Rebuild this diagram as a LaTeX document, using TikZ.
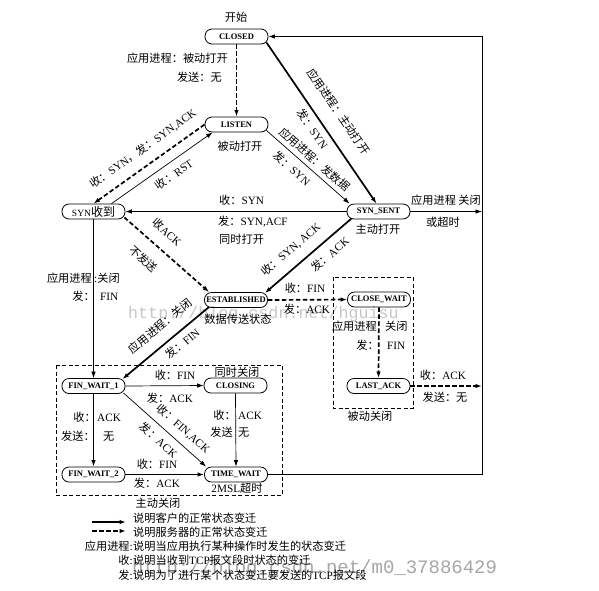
\documentclass[tikz,border=0pt]{standalone}
\usepackage{fontspec}
\setmainfont{Liberation Serif}
\newfontfamily\cjk{Noto Sans CJK SC}
\newfontfamily\wmfont{Liberation Mono}
\usetikzlibrary{arrows.meta}
\newcommand\zh[1]{{\cjk#1}}
\tikzset{
  nd/.style={draw, line width=0.8pt, rounded corners=7pt, minimum width=63pt, minimum height=15pt, inner sep=0pt, font=\bfseries\fontsize{8.5}{9}\selectfont},
  lab/.style={inner sep=0pt, text height=8.5pt, text depth=2.5pt, font=\fontsize{11.2}{11.2}\selectfont},
  arr/.style={-{Latex[length=6.5pt,width=4.5pt]}},
  arrS/.style={{Latex[length=6.5pt,width=4.5pt]}-},
  thickline/.style={line width=1.7pt},
  thinline/.style={line width=0.7pt},
  midline/.style={line width=1pt},
  dthick/.style={line width=1.7pt, dash pattern=on 4.5pt off 2.5pt},
  boxd/.style={line width=0.8pt, dash pattern=on 4pt off 2.5pt},
  wm/.style={inner sep=0pt, text=black!22, anchor=base west}
}
\begin{document}
\begin{tikzpicture}[x=1pt,y=-1pt]
\useasboundingbox (0,0) rectangle (599,590);

% watermarks
\node[wm, font=\wmfont\fontsize{16.7}{17}\selectfont] (wm1) at (128,318) {http://blog.csdn.net/hguisu};
\node[wm, font=\wmfont\fontsize{19}{19}\selectfont, text=black!35] (wm2) at (132,573) {http://blog.csdn.net/m0\_37886429};

% dashed group boxes
\draw[boxd] (56,365) rectangle (282,495);
\draw[boxd] (333,277) rectangle (413,408);

% states
\node[nd] (closed) at (236.5,36.5) {CLOSED};
\node[nd] (listen) at (236.5,124.5) {LISTEN};
\node[nd] (synrcvd) at (93.5,211.5) {\mdseries\fontsize{9.5}{9.5}\selectfont SYN{\cjk\fontsize{12}{12}\selectfont 收到}};
\node[nd] (synsent) at (378.5,211.5) {SYN\_SENT};
\node[nd] (established) at (236,300) {ESTABLISHED};
\node[nd] (closewait) at (379,299.5) {CLOSE\_WAIT};
\node[nd] (lastack) at (378.5,386) {LAST\_ACK};
\node[nd] (finwait1) at (93.5,386) {FIN\_WAIT\_1};
\node[nd] (closing) at (235.5,385.5) {CLOSING};
\node[nd] (finwait2) at (93.5,474.5) {FIN\_WAIT\_2};
\node[nd] (timewait) at (236,474.5) {TIME\_WAIT};

\coordinate (rb) at (482,474.5);
\coordinate (rt) at (482,36.5);
\coordinate (r1) at (482,211.5);
\coordinate (r2) at (482,386);

% transitions
\draw[dthick,arr] (closed) -- (listen);
\draw[thickline,arr] ([xshift=-2pt,yshift=2pt]closed.south east) --
  node[lab,sloped,pos=0.5,above=13pt] (l2a) {\zh{应用进程：主动打开}}
  node[lab,sloped,pos=0.5,below=5.5pt] (l2b) {\zh{发：}SYN}
  ([xshift=-2pt]synsent.north);
\draw[thinline,arr] ([xshift=-2pt,yshift=2pt]listen.south east) --
  node[lab,sloped,pos=0.5,above=3pt] (l3a) {\zh{应用进程：发数据}}
  node[lab,sloped,pos=0.4,below=7pt] (l3b) {\zh{发：}SYN}
  ([xshift=3pt]synsent.north west);
\draw[dthick,arrS] (synrcvd.north) --
  node[lab,sloped,pos=0.53,above=9pt] (l4a) {\zh{收：}SYN\zh{，发：}SYN,ACK}
  (listen.west);
\draw[thinline,arr] ([xshift=18pt]synrcvd.north) --
  node[lab,sloped,pos=0.55,below=7.5pt] (l5a) {\zh{收：}RST}
  ([xshift=8pt]listen.south west);
\draw[thinline,arr] (synsent.west) -- (synrcvd.east);
\draw[dthick,arr] ([xshift=-1pt,yshift=2pt]synrcvd.south east) --
  node[lab,sloped,pos=0.37,above=9.5pt] (l7a) {\zh{收}ACK}
  node[lab,sloped,pos=0.37,below=13.5pt] (l7b) {\zh{不发送}}
  ([xshift=5pt]established.north west);
\draw[thickline,arrS] ([xshift=-3pt,yshift=-1pt]established.north east) --
  node[lab,sloped,pos=0.42,above=9pt] (l8a) {\zh{收：}SYN, ACK}
  node[lab,sloped,pos=0.65,below=8pt] (l8b) {\zh{发：}ACK}
  ([xshift=5pt,yshift=1pt]synsent.south west);
\draw[dthick,arr] (established.east) -- (closewait.west);
\draw[dthick,arr] (closewait.south) -- (lastack.north);
\draw[thickline,arrS] ([xshift=-3pt,yshift=-1pt]finwait1.north east) --
  node[lab,sloped,pos=0.56,above=9pt] (l11a) {\zh{应用进程：关闭}}
  node[lab,sloped,pos=0.61,below=6pt] (l11b) {\zh{发：}FIN}
  ([xshift=5pt,yshift=1pt]established.south west);
\draw[thinline,arr] (synrcvd.south) -- (finwait1.north);
\draw[thinline,arr] (finwait1.east) -- (closing.west);
\draw[thickline,arr] (finwait1.south) -- (finwait2.north);
\draw[thinline,arr] ([xshift=-2pt,yshift=1pt]finwait1.south east) --
  node[lab,sloped,pos=0.62,above=6.5pt] (l15a) {\zh{收：}FIN,ACK}
  node[lab,sloped,pos=0.52,below=7pt] (l15b) {\zh{发：}ACK}
  ([xshift=2pt]timewait.north west);
\draw[thinline,arr] (closing.south) -- (timewait.north);
\draw[thickline,arr] (finwait2.east) -- (timewait.west);
\draw[thickline] (timewait.east) -- (rb);
\draw[midline,arr] (rb) -- (rt) -- (closed.east);
\draw[thinline,arr] (synsent.east) -- (r1);
\draw[dthick,arr] (lastack.east) -- (r2);

% free labels
\node[lab] (t0) at (236,18) {\zh{开始}};
\node[lab,anchor=east] (t1) at (228,59) {\zh{应用进程：被动打开}};
\node[lab,anchor=east] (t2) at (222,78) {\zh{发送：无}};
\node[lab] (t3) at (240,147) {\zh{被动打开}};
\node[lab,anchor=west] (t4) at (219,201) {\zh{收：}SYN};
\node[lab,anchor=west] (t5) at (218,222) {\zh{发：}SYN,ACF};
\node[lab,anchor=west] (t6) at (219,240) {\zh{同时打开}};
\node[lab] (t7) at (378,230) {\zh{主动打开}};
\node[lab] (t8) at (446,201) {\zh{应用进程 关闭}};
\node[lab] (t9) at (443,223) {\zh{或超时}};
\node[lab,anchor=east] (t10) at (92,279) {\zh{应用进程}};
\node[lab,anchor=west] (t11) at (94,279) {:\zh{关闭}};
\node[lab,anchor=east] (t12) at (95,297) {\zh{发：}};
\node[lab,anchor=west] (t13) at (100,297) {FIN};
\node[lab] (t14) at (238,320) {\zh{数据传送状态}};
\node[lab] (t15) at (305,289) {\zh{收：}FIN};
\node[lab] (t16) at (307,310) {\zh{发：}ACK};
\node[lab,anchor=east] (t17) at (377,327) {\zh{应用进程}};
\node[lab,anchor=west] (t18) at (385,327) {\zh{关闭}};
\node[lab,anchor=east] (t19) at (379,346) {\zh{发：}};
\node[lab,anchor=west] (t20) at (387,346) {FIN};
\node[lab] (t21) at (443,376) {\zh{收：}ACK};
\node[lab] (t22) at (445,398) {\zh{发送：无}};
\node[lab] (t23) at (370,417) {\zh{被动关闭}};
\node[lab] (t24) at (237,373) {\zh{同时关闭}};
\node[lab] (t25) at (175,376) {\zh{收：}FIN};
\node[lab] (t26) at (170,399) {\zh{发：}ACK};
\node[lab,anchor=east] (t27) at (96,418) {\zh{收：}};
\node[lab,anchor=west] (t28) at (97,418) {ACK};
\node[lab,anchor=east] (t29) at (95,437) {\zh{发送：}};
\node[lab,anchor=west] (t30) at (103,437) {\zh{无}};
\node[lab,anchor=east] (t31) at (236,416) {\zh{收：}};
\node[lab,anchor=west] (t32) at (238,416) {ACK};
\node[lab,anchor=east] (t33) at (233,433) {\zh{发送}};
\node[lab,anchor=west] (t34) at (238,433) {\zh{无}};
\node[lab] (t35) at (157,465) {\zh{收：}FIN};
\node[lab] (t36) at (157,484) {\zh{发：}ACK};
\node[lab] (t37) at (237,489) {2MSL\zh{超时}};
\node[lab] (t38) at (158,504) {\zh{主动关闭}};

% legend
\coordinate (lg1s) at (92,522);
\coordinate (lg1e) at (126,522);
\coordinate (lg2s) at (92,531);
\coordinate (lg2e) at (126,531);
\draw[thickline,arr] (lg1s) -- (lg1e);
\draw[dthick,arr] (lg2s) -- (lg2e);
\node[lab,anchor=west] (g1) at (133,519) {\zh{说明客户的正常状态变迁}};
\node[lab,anchor=west] (g2) at (133,533) {\zh{说明服务器的正常状态变迁}};
\node[lab,anchor=west] (g3) at (133,547) {\zh{说明当应用执行某种操作时发生的状态变迁}};
\node[lab,anchor=east] (g3k) at (133,547) {\zh{应用进程}:};
\node[lab,anchor=west] (g4) at (133,561) {\zh{说明当收到}TCP\zh{报文段时状态的变迁}};
\node[lab,anchor=east] (g4k) at (133,561) {\zh{收}:};
\node[lab,anchor=west] (g5) at (133,576) {\zh{说明为了进行某个状态变迁要发送的}TCP\zh{报文段}};
\node[lab,anchor=east] (g5k) at (133,576) {\zh{发}:};
\end{tikzpicture}
\end{document}
